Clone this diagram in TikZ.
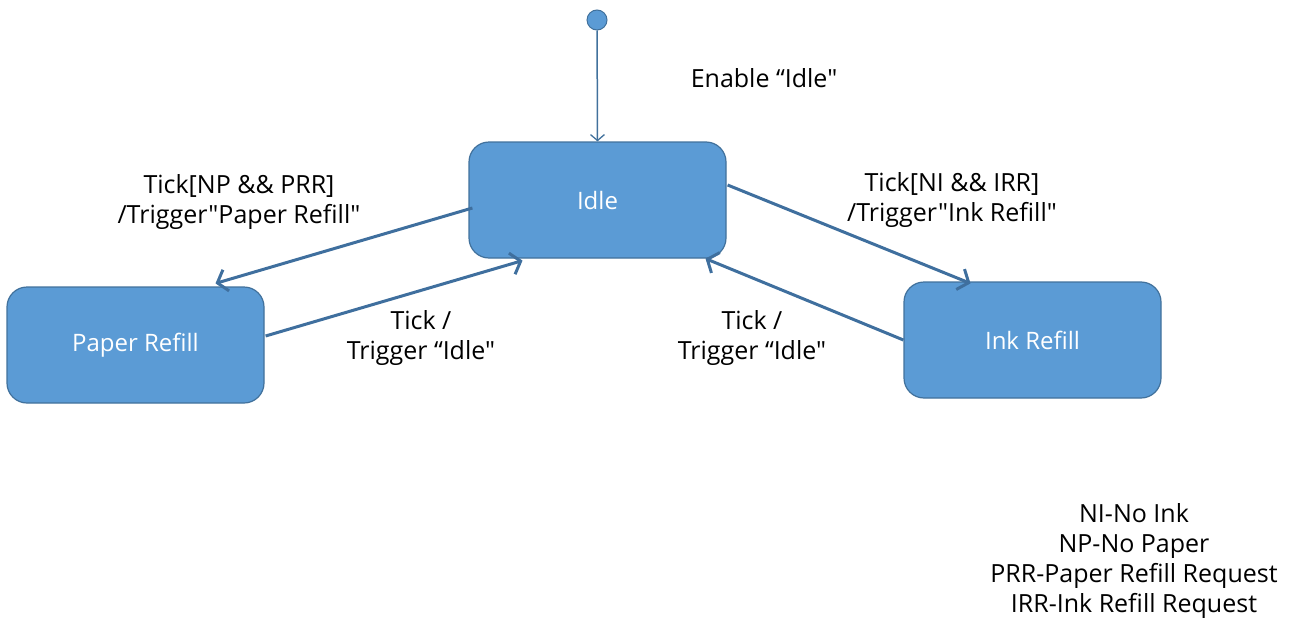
\documentclass[tikz,border=0pt]{standalone}
\usepackage{fontspec}
\setmainfont{Open Sans}[Ligatures=TeXOff]
\usetikzlibrary{arrows.meta,calc}
\definecolor{stfill}{HTML}{5B9BD5}
\definecolor{stline}{HTML}{41719C}
\definecolor{arrline}{HTML}{3F6F9E}
\begin{document}
\begin{tikzpicture}[x=1pt,y=-1pt,
  state/.style={draw=stline, line width=1.2pt, fill=stfill, rounded corners=20pt,
    minimum width=257pt, minimum height=116pt, text=white,
    font=\fontsize{24}{28}\selectfont},
  trans/.style={draw=arrline, line width=3pt,
    -{Straight Barb[length=9pt,width=22pt,line width=3pt]}},
  lbl/.style={align=center, font=\fontsize{25}{30}\selectfont, inner sep=0pt},
  initdot/.style={circle, draw=stline, line width=1pt, fill=stfill,
    minimum size=20pt, inner sep=0pt}]
\useasboundingbox (0,0) rectangle (1290,621);

% states
\node[state] (idle)  at (597.5,200) {Idle};
\node[state] (paper) at (135.5,345) {Paper Refill};
\node[state] (ink)   at (1032.5,340) {Ink Refill};
\node[initdot] (init) at (597,20) {};

% initial transition
\draw[draw=stline, line width=1.5pt, -{Straight Barb[length=6pt,width=14pt,line width=1.3pt]}]
  (init) -- (idle.north);

% transitions
\draw[trans] ($(idle.west)+(4,8)$) -- ($(paper.north)+(80,-3)$);
\draw[trans] ($(paper.east)+(1,-9)$) -- ($(idle.south)+(-75,2)$);
\draw[trans] ($(idle.east)+(1,-15)$) -- ($(ink.north)+(-62,2)$);
\draw[trans] (ink.west) -- ($(idle.south)+(108,0)$);

% labels
\node[lbl] (l0) at (764,78) {Enable “Idle"};
\node[lbl] (l1) at (239,202) {Tick[NP \&\& PRR]\\/Trigger"Paper Refill"};
\node[lbl] (l2) at (421,338) {Tick /\\Trigger “Idle"};
\node[lbl] (l3) at (952,200) {Tick[NI \&\& IRR]\\/Trigger"Ink Refill"};
\node[lbl] (l4) at (752,338) {Tick /\\Trigger “Idle"};
\node[lbl] (legend) at (1134,561) {NI-No Ink\\NP-No Paper\\PRR-Paper Refill Request\\IRR-Ink Refill Request};
\end{tikzpicture}
\end{document}
